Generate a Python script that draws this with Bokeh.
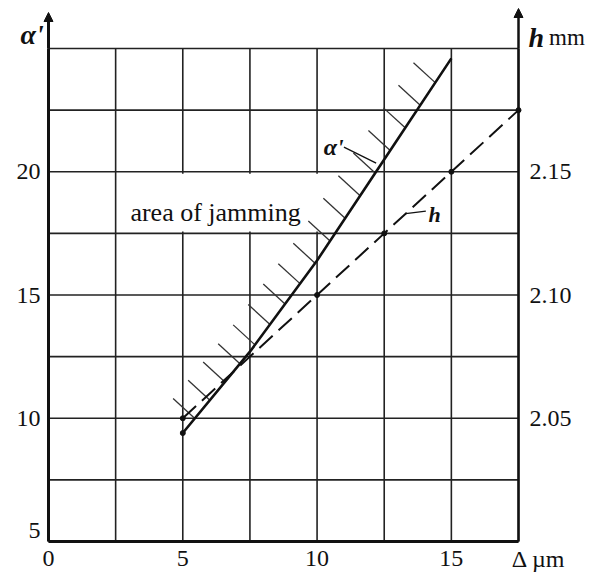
import numpy as np
from bokeh.plotting import figure
from bokeh.models import (Range1d, LinearAxis, FixedTicker, Label, Arrow,
                          NormalHead, ColumnDataSource, PrintfTickFormatter)
from bokeh.embed import file_html
from bokeh.resources import INLINE

# ---- data ----
delta_alpha = [5, 7.5, 10, 12.5, 15]              # Δ, µm
alpha_vals = [9.4, 12.7, 16.4, 20.5, 24.6]        # α'
delta_h = [5, 7.5, 10, 12.5, 15, 17.5]            # Δ, µm
h_vals = [2.05, 2.075, 2.10, 2.125, 2.15, 2.175]  # h, mm
dot_delta_h = [5, 10, 12.5, 15, 17.5]
dot_h = [2.05, 2.10, 2.125, 2.15, 2.175]

x_tick_labels = [0, 5, 10, 15]
y_tick_labels = [10, 15, 20]
h_tick_labels = [2.05, 2.10, 2.15]
x_grid = [0, 2.5, 5, 7.5, 10, 12.5, 15, 17.5]
y_grid = [5, 7.5, 10, 12.5, 15, 17.5, 20, 22.5, 25]
h_lim = (2.00, 2.20)

SERIF = "Liberation Serif"
INK = "#111111"

W, H = 598, 573
L, R, T, B = 48, 80, 48, 32          # space around the data region, px
fw, fh = W - L - R, H - T - B
x0, x1 = x_grid[0], x_grid[-1]
y0, y1 = y_grid[0], y_grid[-1]
sx = (x1 - x0) / fw
sy = (y1 - y0) / fh
sh = (h_lim[1] - h_lim[0]) / fh

p = figure(width=W, height=H, frame_width=W, frame_height=H,
           x_range=Range1d(x0 - L * sx, x1 + R * sx),
           y_range=Range1d(y0 - B * sy, y1 + T * sy),
           x_axis_location=None, y_axis_location=None,
           output_backend="svg", toolbar_location=None,
           min_border=0)
p.extra_y_ranges = {"h": Range1d(h_lim[0] - B * sh, h_lim[1] + T * sh)}
p.outline_line_color = None
p.xgrid.visible = False
p.ygrid.visible = False
p.background_fill_color = "white"
p.border_fill_color = "white"

# grid (bounded to the data region)
p.segment(x0=x_grid, y0=[y0] * len(x_grid), x1=x_grid, y1=[y1] * len(x_grid),
          line_color="#222222", line_width=1.6)
p.segment(x0=[x0] * len(y_grid), y0=y_grid, x1=[x1] * len(y_grid), y1=y_grid,
          line_color="#222222", line_width=1.6)

# white box behind the "area of jamming" label
p.quad(left=2.56, right=10.9, bottom=17.58, top=19.92,
       fill_color="white", line_color=None)

# axes
def style_axis(ax, lw, standoff):
    ax.axis_line_width = lw
    ax.axis_line_color = INK
    ax.major_tick_in = 0
    ax.major_tick_out = 0
    ax.minor_tick_in = 0
    ax.minor_tick_out = 0
    ax.major_label_text_font = SERIF
    ax.major_label_text_font_size = "24px"
    ax.major_label_text_color = INK
    ax.major_label_standoff = standoff

bax = LinearAxis(fixed_location=y0, bounds=(x0, x1),
                 ticker=FixedTicker(ticks=x_tick_labels))
style_axis(bax, 3, 9)
p.add_layout(bax, "below")

lax = LinearAxis(fixed_location=x0, bounds=(y0, y1),
                 ticker=FixedTicker(ticks=y_tick_labels))
style_axis(lax, 3, 8)
p.add_layout(lax, "left")

rax = LinearAxis(y_range_name="h", fixed_location=x1, bounds=h_lim,
                 ticker=FixedTicker(ticks=h_tick_labels),
                 formatter=PrintfTickFormatter(format="%.2f"))
style_axis(rax, 2.5, 11)
p.add_layout(rax, "right")

# hatching on the jamming side of the α' line
hatch_base = np.linspace(5.45, 14.4, 17)
hatch_alpha = np.interp(hatch_base, delta_alpha, alpha_vals)
p.segment(x0=hatch_base, y0=hatch_alpha, x1=hatch_base - 0.81,
          y1=hatch_alpha + 0.81, line_color="#333333", line_width=1.3)

# α' curve (solid)
src_a = ColumnDataSource(dict(x=delta_alpha, y=alpha_vals))
p.line("x", "y", source=src_a, line_color=INK, line_width=2.6)
p.scatter(x=delta_alpha[:1], y=alpha_vals[:1], size=5, color=INK)

# h curve (dashed)
src_h = ColumnDataSource(dict(x=delta_h, y=h_vals))
p.line("x", "y", source=src_h, y_range_name="h", line_color=INK,
       line_width=2.0, line_dash="18 8")
p.scatter(x=dot_delta_h, y=dot_h, y_range_name="h", size=5, color=INK)

# leader lines for curve labels
p.segment(x0=[11.0], y0=[21.0], x1=[12.2], y1=[20.35], line_color=INK,
          line_width=1.3)
p.segment(x0=[13.3], y0=[2.133], x1=[14.05], y1=[2.134], y_range_name="h",
          line_color=INK, line_width=1.3)

# axis arrows
p.add_layout(Arrow(end=NormalHead(size=9, fill_color=INK, line_color=INK),
                   x_start=x0, y_start=y1, x_end=x0, y_end=y1 + 36 * sy,
                   line_width=3, line_color=INK))
p.add_layout(Arrow(end=NormalHead(size=9, fill_color=INK, line_color=INK),
                   x_start=x1, y_start=y1, x_end=x1, y_end=y1 + 40 * sy,
                   line_width=2.5, line_color=INK))

# texts
def lab(x, y, t, size="24px", style="normal", align="left",
        baseline="alphabetic", rng="default"):
    l = Label(x=x, y=y, text=t, text_font=SERIF, text_font_size=size,
              text_font_style=style, text_color=INK, text_align=align,
              text_baseline=baseline, y_range_name=rng)
    p.add_layout(l)

lab(3.05, 18.33, "area of jamming", size="26px")
lab(10.25, 21.0, "α'", size="24px", style="bold italic")
lab(14.15, 2.1325, "h", size="22px", style="bold italic", rng="h")
lab(-1.04, 25.57, "α'", size="28px", style="bold italic")
lab(17.87, 25.45, "h", size="28px", style="bold italic")
lab(18.64, 25.45, "mm", size="23px")
lab(17.25, 4.3, "Δ µm", size="24px", baseline="middle")
lab(-0.3, 5.45, "5", align="right", baseline="middle")

open("out.html", "w").write(file_html(p, INLINE))
